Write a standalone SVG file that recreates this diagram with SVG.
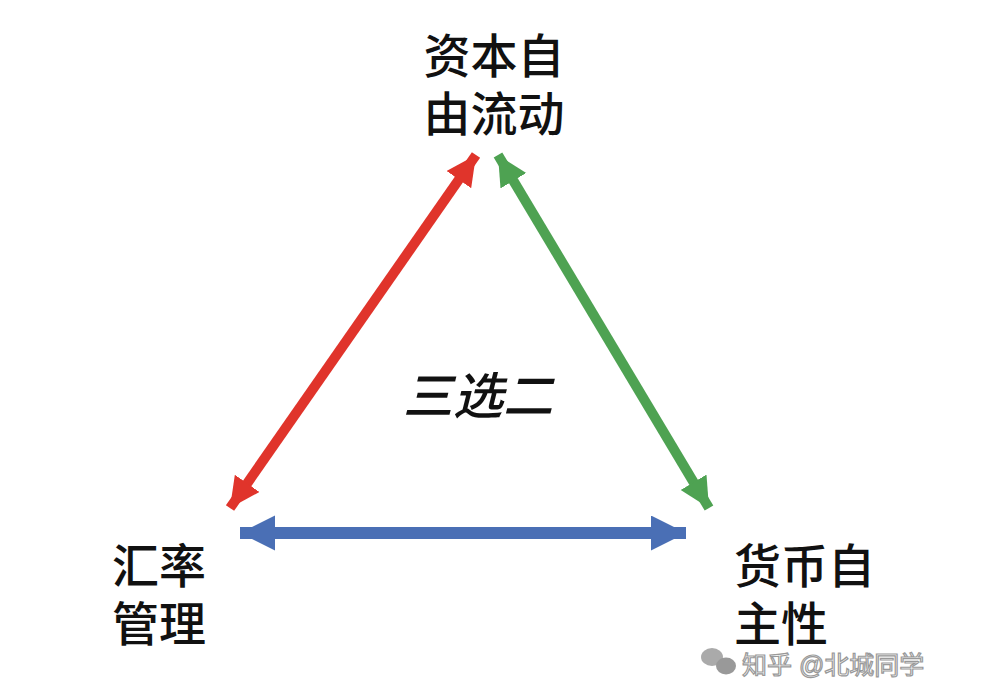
<svg xmlns="http://www.w3.org/2000/svg" width="1000" height="698" viewBox="0 0 1000 698">
<style>
.lbl{font-family:"Liberation Sans","Noto Sans CJK SC",sans-serif;font-size:47px;fill:#111;font-weight:500}
.mid{font-family:"Liberation Sans","Noto Sans CJK SC",sans-serif;font-size:50px;fill:#111;font-style:italic;font-weight:500}
.wm{font-family:"Liberation Sans","Noto Sans CJK SC",sans-serif;font-size:25px;fill:#fff;stroke:#999;stroke-width:1.2}
</style>
<defs>
<marker id="hr" markerUnits="userSpaceOnUse" markerWidth="32" markerHeight="32" refX="30" refY="15" orient="auto-start-reverse" viewBox="0 0 32 32"><path d="M0,0 L30,15 L0,30 z" fill="#e0342b"/></marker>
<marker id="hg" markerUnits="userSpaceOnUse" markerWidth="32" markerHeight="32" refX="30" refY="15" orient="auto-start-reverse" viewBox="0 0 32 32"><path d="M0,0 L30,15 L0,30 z" fill="#4ea252"/></marker>
<marker id="hb" markerUnits="userSpaceOnUse" markerWidth="38" markerHeight="38" refX="35" refY="17.5" orient="auto-start-reverse" viewBox="0 0 38 38"><path d="M0,0 L35,17.5 L0,35 z" fill="#4a6fb5"/></marker>
</defs>
<rect width="1000" height="698" fill="#fff"/>
<g id="connectors">
<line x1="230" y1="508" x2="476" y2="155" stroke="#e0342b" stroke-width="10" marker-start="url(#hr)" marker-end="url(#hr)"/>
<line x1="498" y1="155" x2="709" y2="508" stroke="#4ea252" stroke-width="10" marker-start="url(#hg)" marker-end="url(#hg)"/>
<line x1="240" y1="533" x2="686" y2="533" stroke="#4a6fb5" stroke-width="12" marker-start="url(#hb)" marker-end="url(#hb)"/>
</g>
<g id="node-capital">
<text class="lbl" text-anchor="middle"><tspan x="494" y="73">资本自</tspan><tspan x="494" y="131">由流动</tspan></text>
</g>
<g id="node-exchange">
<text class="lbl"><tspan x="112" y="583">汇率</tspan><tspan x="112" y="641">管理</tspan></text>
</g>
<g id="node-monetary">
<text class="lbl"><tspan x="734" y="583">货币自</tspan><tspan x="734" y="641">主性</tspan></text>
</g>
<g id="center">
<text class="mid" x="478" y="414" text-anchor="middle">三选二</text>
</g>
<g id="watermark">
<ellipse cx="712" cy="657" rx="11" ry="9" fill="#aaa"/>
<ellipse cx="726" cy="666" rx="10" ry="8.5" fill="#999"/>
<text class="wm" x="742" y="674">知乎 @北城同学</text>
</g>
</svg>
